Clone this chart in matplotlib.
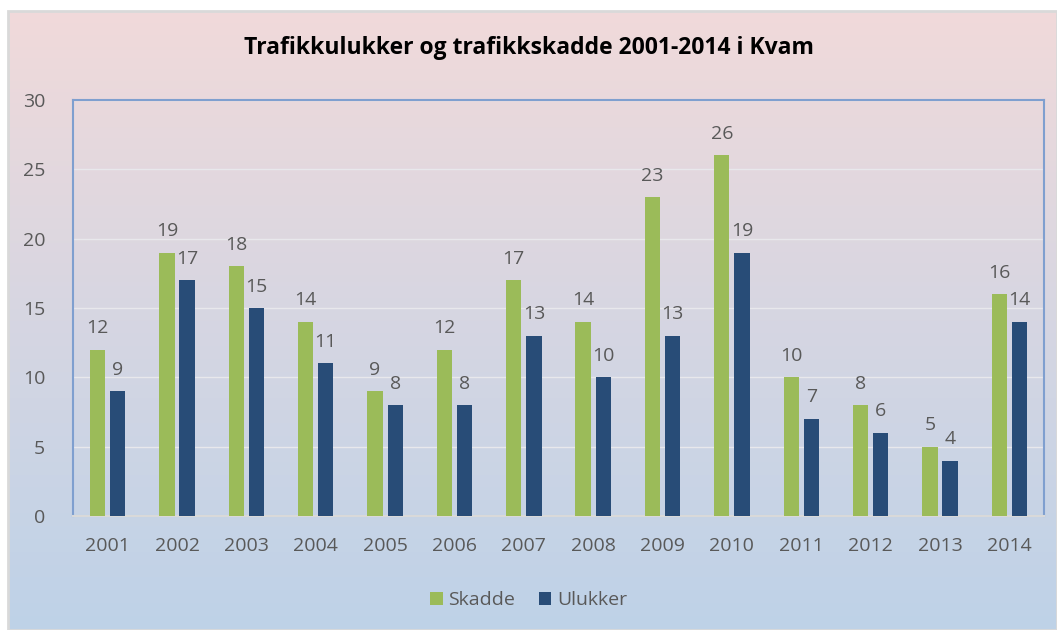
import numpy as np
import matplotlib.pyplot as plt
from matplotlib.patches import Rectangle

years = ['2001', '2002', '2003', '2004', '2005', '2006', '2007',
         '2008', '2009', '2010', '2011', '2012', '2013', '2014']
skadde = [12, 19, 18, 14, 9, 12, 17, 14, 23, 26, 10, 8, 5, 16]
ulukker = [9, 17, 15, 11, 8, 8, 13, 10, 13, 19, 7, 6, 4, 14]

GREEN = '#9bbb59'
BLUE = '#284c77'
TEXT = '#595959'

plt.rcParams['font.family'] = ['Open Sans', 'DejaVu Sans']

fig = plt.figure(figsize=(10.57, 6.3), dpi=100)
fig.patch.set_facecolor('white')

# gradient chart background
bg = fig.add_axes([0, 0, 1, 1], zorder=0)
top = np.array([241, 218, 218]) / 255
mid = np.array([214, 214, 226]) / 255
bot = np.array([190, 210, 232]) / 255
n = 256
t = np.linspace(0, 1, n)[:, None]
grad = np.where(t < 0.5, top + (mid - top) * (t / 0.5), mid + (bot - mid) * ((t - 0.5) / 0.5))
grad = grad[:, None, :]
x0, y0 = 8 / 1057, 0
x1, y1 = 1.0, 1 - 11 / 630
bg.imshow(grad, extent=[x0, x1, y0, y1], aspect='auto', origin='upper')
bg.add_patch(Rectangle((x0, y0), x1 - x0, y1 - y0, fill=False, edgecolor='#d9d9d9', lw=2))
bg.set_xlim(0, 1)
bg.set_ylim(0, 1)
bg.axis('off')

ax = fig.add_axes([73 / 1057, 1 - 516 / 630, (1044 - 73) / 1057, (516 - 100) / 630], zorder=1)
ax.patch.set_alpha(0)

x = np.arange(len(years))
w = 0.22
off = 0.145
b1 = ax.bar(x - off, skadde, w, color=GREEN, label='Skadde', zorder=3)
b2 = ax.bar(x + off, ulukker, w, color=BLUE, label='Ulukker', zorder=3)
for bars, vals in ((b1, skadde), (b2, ulukker)):
    for r, v in zip(bars, vals):
        ax.text(r.get_x() + r.get_width() / 2, v + 0.9, str(v), ha='center', va='bottom',
                fontsize=14, color=TEXT)

ax.set_xlim(-0.5, len(years) - 0.5)
ax.set_ylim(0, 30)
ax.set_yticks(range(0, 31, 5))
ax.set_xticks(x)
ax.set_xticklabels(years)
ax.tick_params(axis='both', length=0, labelsize=14, labelcolor=TEXT)
ax.tick_params(axis='x', pad=15)
ax.tick_params(axis='y', pad=20)
ax.grid(axis='y', color='#e8e8ec', lw=1, zorder=0)
for s in ('left', 'top', 'right'):
    ax.spines[s].set_color('#7f9fcf')
    ax.spines[s].set_linewidth(1.5)
ax.spines['bottom'].set_color('#d9d9d9')
ax.spines['bottom'].set_linewidth(1.5)

fig.text(0.5, 1 - 48 / 630, 'Trafikkulukker og trafikkskadde 2001-2014 i Kvam',
         ha='center', va='center', fontsize=16.5, fontweight='bold', color='black')

fig.legend(handles=[b1, b2], loc='center', bbox_to_anchor=(0.5, 1 - 600 / 630),
           ncol=2, frameon=False, fontsize=14, labelcolor=TEXT,
           handlelength=0.65, handleheight=0.65, handletextpad=0.3, columnspacing=1.2)

fig.savefig('out.png', dpi=100)
